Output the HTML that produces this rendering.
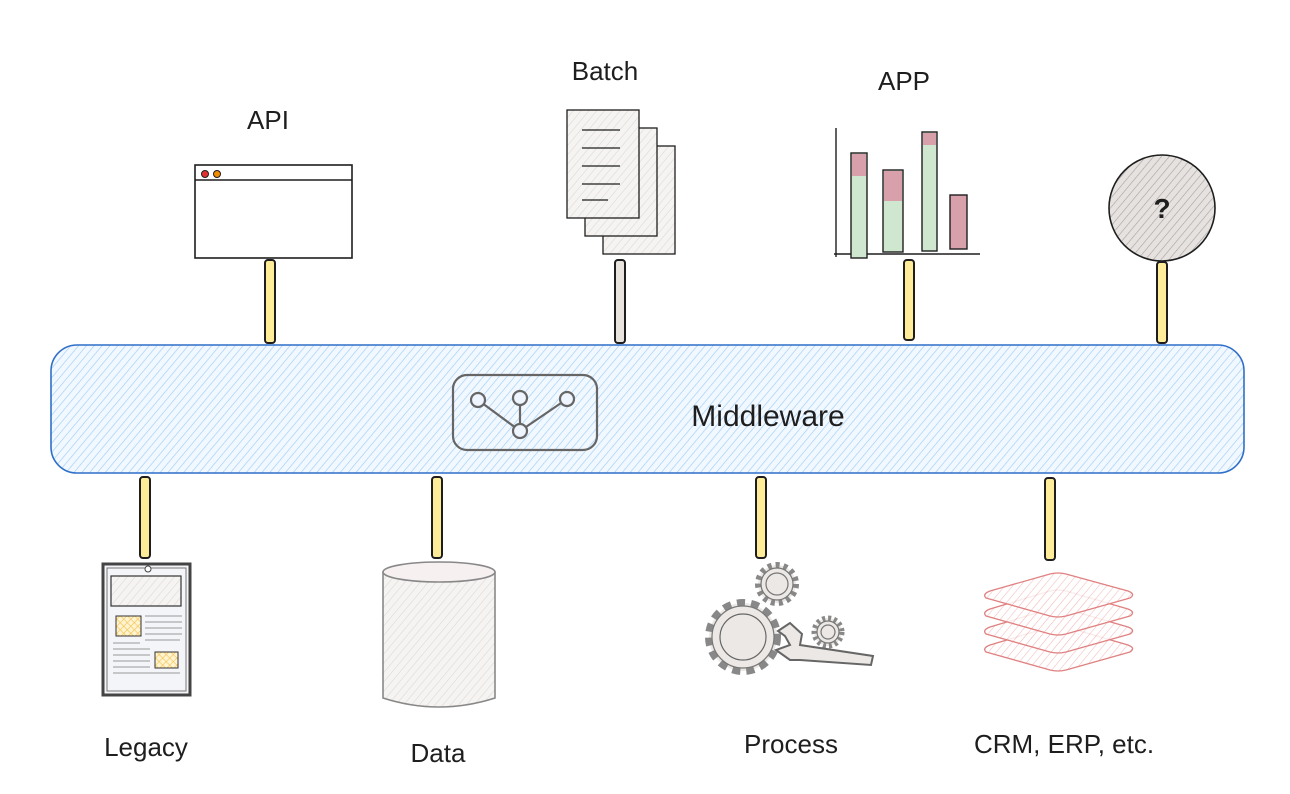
<!DOCTYPE html>
<html><head><meta charset="utf-8"><style>
html,body{margin:0;padding:0;background:#fff;width:1290px;height:794px;overflow:hidden}
text{font-family:"Liberation Sans",sans-serif;fill:#1e1e1e}
</style></head><body>
<svg width="1290" height="794" viewBox="0 0 1290 794" xmlns="http://www.w3.org/2000/svg">
<defs>
<pattern id="hb" width="6" height="6" patternUnits="userSpaceOnUse" patternTransform="rotate(40)"><rect width="6" height="6" fill="#f2f8ff"/><line x1="0" y1="0" x2="0" y2="6" stroke="#a5d0f5" stroke-width="1.4"/></pattern>
<pattern id="hg" width="6" height="6" patternUnits="userSpaceOnUse" patternTransform="rotate(40)"><rect width="6" height="6" fill="#f6f4f2"/><line x1="0" y1="0" x2="0" y2="6" stroke="#ddd8d4" stroke-width="1.2"/></pattern>
<pattern id="hq" width="6" height="6" patternUnits="userSpaceOnUse" patternTransform="rotate(40)"><rect width="6" height="6" fill="#e6e2e0"/><line x1="0" y1="0" x2="0" y2="6" stroke="#a8a0a0" stroke-width="1.2"/></pattern>
<pattern id="hr" width="6" height="6" patternUnits="userSpaceOnUse" patternTransform="rotate(40)"><rect width="6" height="6" fill="#fff"/><line x1="0" y1="0" x2="0" y2="6" stroke="#f0b8b8" stroke-width="1.2"/></pattern>
<pattern id="hy" width="5" height="5" patternUnits="userSpaceOnUse" patternTransform="rotate(45)"><rect width="5" height="5" fill="#fff3d0"/><line x1="0" y1="0" x2="0" y2="5" stroke="#f2c14e" stroke-width="1.2"/><line x1="0" y1="0" x2="5" y2="0" stroke="#f2c14e" stroke-width="1.2"/></pattern>
</defs>
<g stroke="#1e1e1e" stroke-width="2">
<rect x="265" y="260" width="10" height="83" rx="3" fill="#ffec99"/>
<rect x="615" y="260" width="10" height="83" rx="3" fill="#e9e3de"/>
<rect x="904" y="260" width="10" height="80" rx="3" fill="#ffec99"/>
<rect x="1157" y="262" width="10" height="81" rx="3" fill="#ffec99"/>
<rect x="140" y="477" width="10" height="81" rx="3" fill="#ffec99"/>
<rect x="432" y="477" width="10" height="81" rx="3" fill="#ffec99"/>
<rect x="756" y="477" width="10" height="81" rx="3" fill="#ffec99"/>
<rect x="1045" y="478" width="10" height="82" rx="3" fill="#ffec99"/>
</g>
<rect x="51" y="345" width="1193" height="128" rx="26" fill="url(#hb)" stroke="#2f6fc8" stroke-width="1.6"/>
<g stroke="#666" stroke-width="2.2" fill="none">
<rect x="453" y="375" width="144" height="75" rx="14"/>
<line x1="478" y1="400" x2="520" y2="431"/><line x1="520" y1="398" x2="520" y2="431"/><line x1="567" y1="399" x2="520" y2="431"/>
<circle cx="478" cy="400" r="7" fill="#eef5ff"/><circle cx="520" cy="398" r="7" fill="#eef5ff"/><circle cx="567" cy="399" r="7" fill="#eef5ff"/><circle cx="520" cy="431" r="7" fill="#eef5ff"/>
</g>
<text x="768" y="426" font-size="30" text-anchor="middle">Middleware</text>
<rect x="195" y="165" width="157" height="93" fill="#fff" stroke="#1e1e1e" stroke-width="1.6"/>
<line x1="195" y1="180" x2="352" y2="180" stroke="#1e1e1e" stroke-width="1.4"/>
<circle cx="205" cy="174" r="3.5" fill="#e03131" stroke="#1e1e1e"/><circle cx="217" cy="174" r="3.5" fill="#f08c00" stroke="#1e1e1e"/>
<text x="268" y="129" font-size="26" text-anchor="middle">API</text>
<g stroke="#1e1e1e" stroke-width="1.3">
<rect x="603" y="146" width="72" height="108" fill="url(#hg)"/>
<rect x="585" y="128" width="72" height="108" fill="url(#hg)"/>
<rect x="567" y="110" width="72" height="108" fill="url(#hg)"/>
<line x1="582" y1="130" x2="620" y2="130"/><line x1="582" y1="148" x2="620" y2="148"/><line x1="582" y1="166" x2="620" y2="166"/><line x1="582" y1="184" x2="620" y2="184"/><line x1="582" y1="200" x2="608" y2="200"/>
</g>
<text x="605" y="80" font-size="26" text-anchor="middle">Batch</text>
<g stroke="#1e1e1e" stroke-width="1.4">
<line x1="836" y1="128" x2="836" y2="257"/><line x1="834" y1="254" x2="980" y2="254"/>
<rect x="851" y="153" width="16" height="105" fill="#cfe6cf"/><rect x="852" y="154" width="14" height="22" fill="#d8a0aa" stroke="none"/>
<rect x="883" y="170" width="20" height="82" fill="#cfe6cf"/><rect x="884" y="171" width="18" height="30" fill="#d8a0aa" stroke="none"/>
<rect x="922" y="132" width="15" height="119" fill="#cfe6cf"/><rect x="923" y="133" width="13" height="12" fill="#d8a0aa" stroke="none"/>
<rect x="950" y="195" width="17" height="54" fill="#d8a0aa"/>
</g>
<text x="904" y="90" font-size="26" text-anchor="middle">APP</text>
<circle cx="1162" cy="208" r="53" fill="url(#hq)" stroke="#1e1e1e" stroke-width="1.6"/>
<text x="1162" y="218" font-size="28" font-weight="bold" text-anchor="middle">?</text>
<rect x="103" y="564" width="87" height="131" fill="#f4f5f8" stroke="#444" stroke-width="3"/>
<rect x="107" y="568" width="79" height="123" fill="none" stroke="#777" stroke-width="1"/>
<circle cx="148" cy="569" r="3" fill="#fff" stroke="#444"/>
<rect x="111" y="576" width="70" height="30" fill="url(#hg)" stroke="#333" stroke-width="1.2"/>
<rect x="116" y="616" width="25" height="20" fill="url(#hy)" stroke="#333"/>
<rect x="155" y="652" width="23" height="16" fill="url(#hy)" stroke="#333"/>
<g stroke="#999" stroke-width="1"><line x1="145" y1="616" x2="182" y2="616"/><line x1="145" y1="622" x2="182" y2="622"/><line x1="145" y1="628" x2="182" y2="628"/><line x1="145" y1="634" x2="182" y2="634"/><line x1="145" y1="640" x2="180" y2="640"/><line x1="113" y1="643" x2="140" y2="643"/><line x1="113" y1="649" x2="150" y2="649"/><line x1="113" y1="655" x2="150" y2="655"/><line x1="113" y1="661" x2="150" y2="661"/><line x1="113" y1="667" x2="150" y2="667"/><line x1="113" y1="673" x2="180" y2="673"/></g>
<text x="146" y="756" font-size="26" text-anchor="middle">Legacy</text>
<path d="M383 572 L383 698 Q439 716 495 698 L495 572" fill="url(#hg)" stroke="#888" stroke-width="1.6"/>
<ellipse cx="439" cy="572" rx="56" ry="10" fill="#f6f0f0" stroke="#888" stroke-width="1.6"/>
<text x="438" y="762" font-size="26" text-anchor="middle">Data</text>
<g stroke="#777" stroke-width="1.2" fill="#ece8e6">
<circle cx="777" cy="584" r="19" fill="#ece8e6" stroke="#888" stroke-dasharray="4 4" stroke-width="6"/><circle cx="777" cy="584" r="16"/><circle cx="777" cy="584" r="11"/>
<circle cx="828" cy="632" r="14" stroke="#888" stroke-dasharray="3 3" stroke-width="5"/><circle cx="828" cy="632" r="11"/><circle cx="828" cy="632" r="7"/>
<circle cx="743" cy="637" r="34" stroke="#888" stroke-dasharray="8 6" stroke-width="8"/><circle cx="743" cy="637" r="31"/><circle cx="743" cy="637" r="23" stroke="#666"/>
<path d="M778 631 L790 623 L802 634 L800 645 L873 656 L871 665 L800 660 L790 660 L776 650 L790 645 L785 636 Z" stroke="#666" stroke-width="2"/>
</g>
<text x="791" y="753" font-size="26" text-anchor="middle">Process</text>
<g stroke="#e08080" stroke-width="1.3" fill="url(#hr)" fill-opacity="0.85" stroke-linejoin="round">
<path d="M986 652 Q982 648 990 645 L1050 627 Q1058 625 1066 627 L1128 645 Q1136 648 1130 652 L1066 670 Q1058 672 1050 670 Z"/>
<path d="M986 634 Q982 630 990 627 L1050 609 Q1058 607 1066 609 L1128 627 Q1136 630 1130 634 L1066 652 Q1058 654 1050 652 Z"/>
<path d="M986 616 Q982 612 990 609 L1050 591 Q1058 589 1066 591 L1128 609 Q1136 612 1130 616 L1066 634 Q1058 636 1050 634 Z"/>
<path d="M986 598 Q982 594 990 591 L1050 574 Q1058 572 1066 574 L1128 591 Q1136 594 1130 598 L1066 616 Q1058 618 1050 616 Z"/>
</g>
<text x="1064" y="753" font-size="26" text-anchor="middle">CRM, ERP, etc.</text>
</svg>
</body></html>
